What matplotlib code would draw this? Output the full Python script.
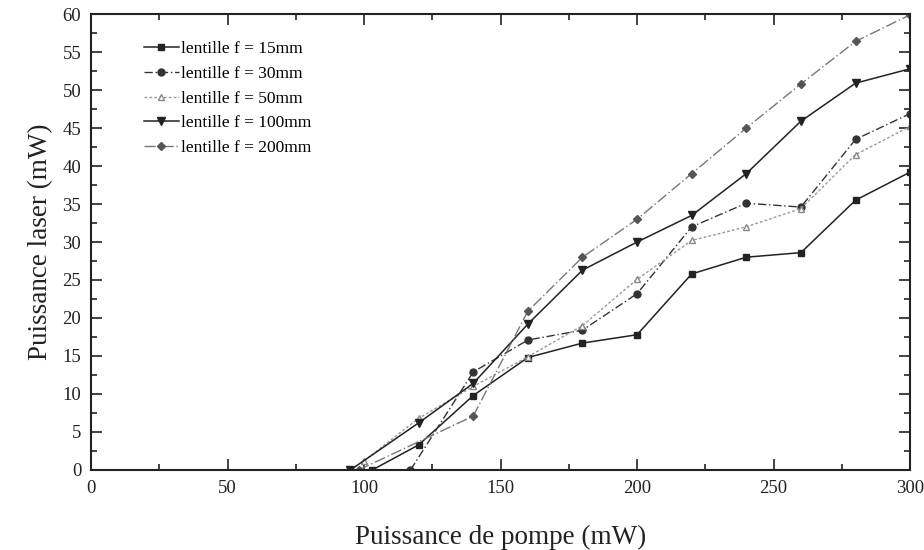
import matplotlib
matplotlib.use("Agg")
import matplotlib.pyplot as plt
from matplotlib.ticker import MultipleLocator

plt.rcParams["font.family"] = ["Liberation Serif", "DejaVu Serif"]

# data
x_15 = [103, 120, 140, 160, 180, 200, 220, 240, 260, 280, 300]
y_15 = [0, 3.3, 9.8, 14.8, 16.7, 17.8, 25.8, 28.0, 28.6, 35.5, 39.2]

x_30 = [117, 140, 160, 180, 200, 220, 240, 260, 280, 300]
y_30 = [0, 12.9, 17.1, 18.4, 23.2, 32.0, 35.1, 34.6, 43.5, 46.9]

x_50 = [100, 120, 140, 160, 180, 200, 220, 240, 260, 280, 300]
y_50 = [1.2, 6.8, 11.0, 14.9, 19.0, 25.1, 30.2, 32.0, 34.4, 41.5, 45.2]

x_100 = [95, 120, 140, 160, 180, 200, 220, 240, 260, 280, 300]
y_100 = [0, 6.2, 11.4, 19.2, 26.3, 30.0, 33.5, 39.0, 45.9, 50.9, 52.8]

x_200 = [98, 140, 160, 180, 200, 220, 240, 260, 280, 300]
y_200 = [0, 7.1, 20.9, 28.0, 33.0, 39.0, 45.0, 50.8, 56.4, 59.9]

labels = ["lentille f = 15mm", "lentille f = 30mm", "lentille f = 50mm",
          "lentille f = 100mm", "lentille f = 200mm"]

fig = plt.figure(figsize=(9.24, 5.5), dpi=100)
ax = fig.add_axes([0.0985, 0.1455, 0.8865, 0.829])

ax.plot(x_15, y_15, color="#222222", lw=1.1, ls="-", marker="s", ms=5,
        mfc="#222222", mec="#222222", label=labels[0])
ax.plot(x_30, y_30, color="#333333", lw=1.0, ls=(0, (6, 2, 1, 2)), marker="o", ms=5,
        mfc="#333333", mec="#333333", label=labels[1])
ax.plot(x_50, y_50, color="#999999", lw=1.0, ls=(0, (2, 1.5)), marker="^", ms=5,
        mfc="white", mec="#888888", label=labels[2])
ax.plot(x_100, y_100, color="#222222", lw=1.1, ls="-", marker="v", ms=6,
        mfc="#222222", mec="#222222", label=labels[3])
ax.plot(x_200, y_200, color="#777777", lw=1.0, ls=(0, (8, 2, 1, 2)), marker="D", ms=4,
        mfc="#555555", mec="#555555", label=labels[4])

ax.set_xlim(0, 300)
ax.set_ylim(0, 60)
ax.xaxis.set_major_locator(MultipleLocator(50))
ax.xaxis.set_minor_locator(MultipleLocator(25))
ax.yaxis.set_major_locator(MultipleLocator(5))
ax.yaxis.set_minor_locator(MultipleLocator(2.5))
ax.tick_params(which="both", direction="in", top=True, right=True, width=1.2,
               labelsize=13.5, colors="#222222")
ax.tick_params(which="major", length=8, pad=7)
ax.tick_params(which="minor", length=4)
for s in ax.spines.values():
    s.set_linewidth(1.5)
    s.set_color("#222222")

ax.set_xlabel("Puissance de pompe (mW)", fontsize=19.5, labelpad=20, color="#222222")
ax.set_ylabel("Puissance laser (mW)", fontsize=19.5, labelpad=7, color="#222222")

ax.legend(loc="upper left", bbox_to_anchor=(0.05, 0.968), frameon=False,
          fontsize=12.5, handlelength=2.0, handletextpad=0.1, labelspacing=0.5,
          borderpad=0.2)

fig.savefig("out.png", dpi=100)
